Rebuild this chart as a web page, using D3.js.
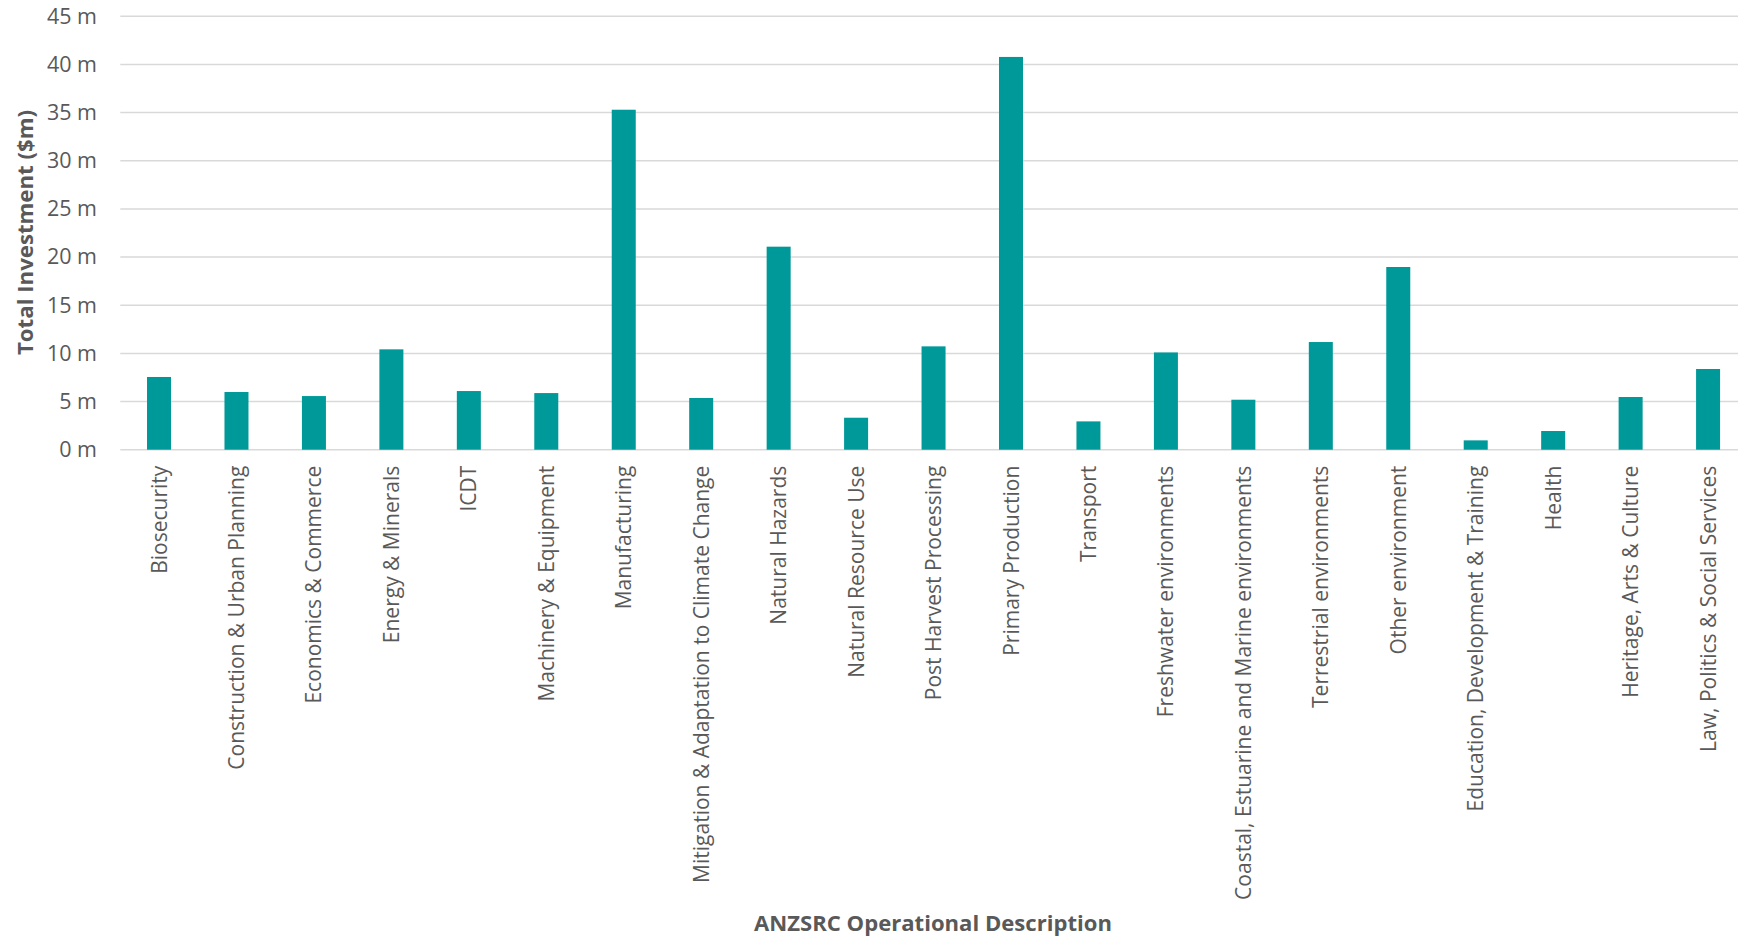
<!DOCTYPE html>
<html>
<head>
<meta charset="utf-8">
<script src="https://cdn.jsdelivr.net/npm/d3@7"></script>
<style>
    body { margin: 0; background: #fff; }
    text { font-family: "Open Sans", sans-serif; }
</style>
</head>
<body>
<div id="content-area"></div>
<script>
// Chart data
const categories = [
    "Biosecurity",
    "Construction & Urban Planning",
    "Economics & Commerce",
    "Energy & Minerals",
    "ICDT",
    "Machinery & Equipment",
    "Manufacturing",
    "Mitigation & Adaptation to Climate Change",
    "Natural Hazards",
    "Natural Resource Use",
    "Post Harvest Processing",
    "Primary Production",
    "Transport",
    "Freshwater environments",
    "Coastal, Estuarine and Marine environments",
    "Terrestrial environments",
    "Other environment",
    "Education, Development & Training",
    "Health",
    "Heritage, Arts & Culture",
    "Law, Politics & Social Services"
];
const investment = [7.55, 5.99, 5.57, 10.42, 6.09, 5.88, 35.3, 5.37, 21.08, 3.32,
                    10.73, 40.78, 2.94, 10.1, 5.19, 11.18, 18.97, 0.97, 1.94, 5.47, 8.38];
const yTicks = [0, 5, 10, 15, 20, 25, 30, 35, 40, 45];

function init() {
    const w = 1738;
    const h = 939;
    const left = 120.3, right = 1746.8;
    const top = 16.3, bottom = 449.7;
    const textColor = "#595959";

    const svg = d3.select("#content-area")
                    .append("svg")
                    .attr("width", w)
                    .attr("height", h);

    const x = d3.scaleBand()
        .domain(categories)
        .range([left, right])
        .paddingInner(0.69)
        .paddingOuter(0.345);

    const y = d3.scaleLinear()
        .domain([0, 45])
        .range([bottom, top]);

    // Gridlines
    svg.append("g")
        .selectAll("line")
        .data(yTicks)
        .enter()
        .append("line")
        .attr("x1", left)
        .attr("x2", w)
        .attr("y1", d => y(d))
        .attr("y2", d => y(d))
        .attr("stroke", "#d9d9d9")
        .attr("stroke-width", 1.5);

    // Y axis labels
    const yAxis = d3.axisLeft(y)
        .tickValues(yTicks)
        .tickSize(0)
        .tickPadding(0)
        .tickFormat(d => d + " m");

    svg.append("g")
        .attr("transform", "translate(97,0)")
        .call(yAxis)
        .call(g => g.select(".domain").remove())
        .selectAll("text")
        .attr("font-family", "Open Sans")
        .attr("font-size", "21.5px")
        .attr("fill", textColor);

    // Bars
    svg.selectAll("rect.bar")
        .data(investment)
        .enter()
        .append("rect")
        .attr("class", "bar")
        .attr("x", (d, i) => x(categories[i]))
        .attr("y", d => y(d))
        .attr("width", x.bandwidth())
        .attr("height", d => bottom - y(d))
        .attr("fill", "#009999");

    // X axis labels (rotated)
    const xAxis = d3.axisBottom(x).tickSize(0).tickPadding(0);

    svg.append("g")
        .attr("transform", "translate(0," + bottom + ")")
        .call(xAxis)
        .call(g => g.select(".domain").remove())
        .selectAll("text")
        .attr("font-family", "Open Sans")
        .attr("font-size", "21px")
        .attr("fill", textColor)
        .attr("text-anchor", "end")
        .attr("transform", "translate(0,16) rotate(-90)")
        .attr("x", 0)
        .attr("y", 0)
        .attr("dy", "0.36em");

    // Axis titles
    svg.append("text")
        .attr("x", 933)
        .attr("y", 931)
        .attr("text-anchor", "middle")
        .attr("font-size", "21px")
        .attr("font-weight", "bold")
        .attr("fill", textColor)
        .attr("textLength", 358)
        .attr("lengthAdjust", "spacingAndGlyphs")
        .text("ANZSRC Operational Description");

    svg.append("text")
        .attr("transform", "translate(33,232.5) rotate(-90)")
        .attr("text-anchor", "middle")
        .attr("font-size", "21px")
        .attr("font-weight", "bold")
        .attr("fill", textColor)
        .attr("textLength", 245)
        .attr("lengthAdjust", "spacingAndGlyphs")
        .text("Total Investment ($m)");
}

window.onload = init;
</script>
</body>
</html>
